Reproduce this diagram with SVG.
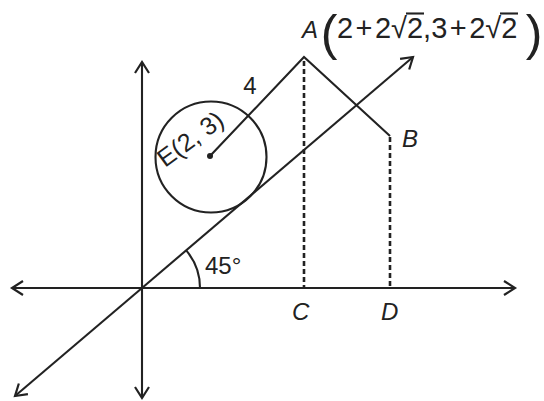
<svg xmlns="http://www.w3.org/2000/svg" width="544" height="401" viewBox="0 0 544 401">
  <defs>
    <marker id="arr" markerUnits="userSpaceOnUse" markerWidth="30" markerHeight="30" refX="0" refY="0" viewBox="-15 -15 30 30" orient="auto" overflow="visible">
      <path d="M -11 -7 L 0 0 L -11 7" fill="none" stroke="#222" stroke-width="2.2" stroke-linejoin="miter"/>
    </marker>
  </defs>
  <style>
    .ln { stroke: #222; stroke-width: 2.1; fill: none; }
    .dash { stroke: #222; stroke-width: 2.6; stroke-dasharray: 5 3; fill: none; }
    .t { font-family: "Liberation Sans", Arial, sans-serif; fill: #222; }
    .it { font-style: italic; }
  </style>
  <rect width="544" height="401" fill="#fff"/>

  <g id="axes">
    <line class="ln" x1="142" y1="288" x2="515" y2="288" marker-end="url(#arr)"/>
    <line class="ln" x1="142" y1="288" x2="12" y2="288" marker-end="url(#arr)"/>
    <line class="ln" x1="142" y1="288" x2="142" y2="62" marker-end="url(#arr)"/>
    <line class="ln" x1="142" y1="288" x2="142" y2="398" marker-end="url(#arr)"/>
    <line class="ln" x1="142" y1="288" x2="413" y2="57" marker-end="url(#arr)"/>
    <line class="ln" x1="142" y1="288" x2="15" y2="396" marker-end="url(#arr)"/>
  </g>

  <g id="angle">
    <path class="ln" d="M 200 288 A 58 58 0 0 0 186.2 250.4"/>
    <text class="t" x="205" y="274" font-size="24">45°</text>
  </g>

  <g id="circle-E">
    <circle class="ln" cx="211" cy="157" r="55.5"/>
    <circle cx="210" cy="156" r="3" fill="#222"/>
    <text class="t" font-size="25" transform="translate(165,168) rotate(-36)">E(2, 3)</text>
  </g>

  <g id="connectors">
    <polyline class="ln" points="210,156 304,57 390,136"/>
    <line class="dash" x1="304" y1="61" x2="304" y2="287"/>
    <line class="dash" x1="390" y1="137" x2="390" y2="287"/>
  </g>

  <g id="labels">
    <text class="t" x="250" y="94" font-size="24" text-anchor="middle">4</text>
    <text class="t it" x="402" y="147" font-size="24">B</text>
    <text class="t it" x="292" y="320" font-size="24">C</text>
    <text class="t it" x="381" y="320" font-size="24">D</text>
  </g>

  <g id="point-A">
    <text class="t it" x="302" y="38" font-size="24">A</text>
    <text class="t" x="329" y="50" font-size="50" text-anchor="middle">(</text>
    <text class="t" font-size="29" y="38" x="337 355.6 375 391.1 407 423.1 431.2 449.8 469.2 485.3 501.2">2+2√2,3+2√2</text>
    <line class="ln" x1="406" y1="13.5" x2="424" y2="13.5"/>
    <line class="ln" x1="500" y1="13.5" x2="518" y2="13.5"/>
    <text class="t" x="534" y="50" font-size="50" text-anchor="middle">)</text>
  </g>
</svg>
